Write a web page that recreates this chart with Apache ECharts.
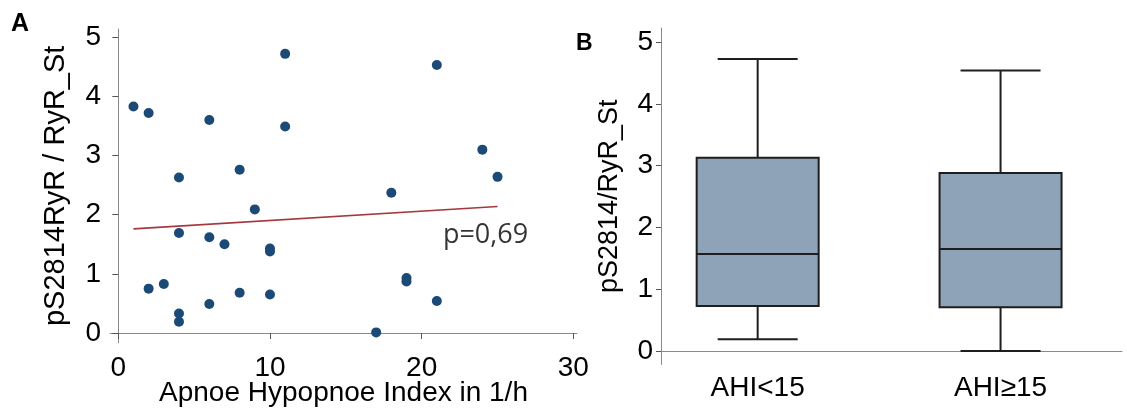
<!DOCTYPE html>
<html><head><meta charset="utf-8">
<script src="https://cdn.jsdelivr.net/npm/echarts@6/dist/echarts.min.js"></script>
<style>html,body{margin:0;padding:0;background:#fff}#c{width:1127px;height:410px}</style>
</head><body><div id="c"></div>
<script>
// Panel A: scatter data (AHI in 1/h vs pS2814RyR / RyR_St)
const ahi   = [1, 2, 11, 6, 11, 4, 8, 9, 4, 6, 7, 10, 10, 2, 3, 8, 10, 6, 4, 4, 21, 24, 25, 18, 19, 19, 21, 17];
const ratio = [3.83, 3.72, 4.72, 3.60, 3.49, 2.63, 2.76, 2.09, 1.69, 1.62, 1.50, 1.43, 1.38, 0.75, 0.83, 0.68, 0.65, 0.49, 0.33, 0.19, 4.53, 3.10, 2.64, 2.37, 0.93, 0.87, 0.54, 0.01];
// regression line endpoints
const fitX = [1, 25];
const fitY = [1.76, 2.14];
const pText = 'p=0,69';
const pAt = [21.4, 1.66];
const scatterXTicks = [0, 10, 20, 30];
const yTicks = [0, 1, 2, 3, 4, 5];
// Panel B: box plot
const groups    = ['AHI<15', 'AHI≥15'];
const groupPos  = [1, 2];
const boxMin    = [0.19, 0.00];
const boxQ1     = [0.73, 0.71];
const boxMedian = [1.57, 1.65];
const boxQ3     = [3.13, 2.88];
const boxMax    = [4.73, 4.54];

const FONT = "'Liberation Sans', Arial, sans-serif";
const axisGrey = '#8a8a8a';

const chart = echarts.init(document.getElementById('c'));
chart.setOption({
  animation: false,
  backgroundColor: '#fff',
  textStyle: { fontFamily: FONT, color: '#000' },
  grid: [
    { left: 110, top: 29, width: 467, height: 313.7, containLabel: false, outerBoundsMode: 'none' },
    { left: 661, top: 28, width: 461, height: 336.5, containLabel: false, outerBoundsMode: 'none' }
  ],
  graphic: [
    { type: 'text', left: 11, top: 12, style: { text: 'A', font: "bold 25px 'Liberation Sans', Arial", fill: '#000' } },
    { type: 'text', left: 576, top: 32, style: { text: 'B', font: "bold 23px 'Liberation Sans', Arial", fill: '#000' } }
  ],
  xAxis: [
    {
      gridIndex: 0, type: 'value', min: -0.547, max: 30.24,
      name: 'Apnoe Hypopnoe Index in 1/h', nameLocation: 'middle', nameGap: 37, nameMoveOverlap: false,
      nameTextStyle: { fontSize: 28, fontFamily: FONT, color: '#000' },
      axisLine: { show: true, lineStyle: { color: axisGrey, width: 1 } },
      axisTick: { show: true, length: 6, lineStyle: { color: '#555' }, customValues: scatterXTicks },
      axisLabel: { fontSize: 28, color: '#000', margin: 12, customValues: scatterXTicks },
      splitLine: { show: false }
    },
    {
      gridIndex: 1, type: 'value', min: 0.602, max: 2.5,
      axisLine: { show: true, lineStyle: { color: axisGrey, width: 1 } },
      axisTick: { show: false },
      axisLabel: { fontSize: 28, color: '#000', margin: 10, customValues: groupPos,
                   formatter: v => groups[Math.round(v) - 1] || '' },
      splitLine: { show: false }
    }
  ],
  yAxis: [
    {
      gridIndex: 0, type: 'value', min: -0.164, max: 5.14,
      name: 'pS2814RyR / RyR_St', nameLocation: 'middle', nameGap: 40, nameMoveOverlap: false,
      nameTextStyle: { fontSize: 29, fontFamily: FONT, color: '#000' },
      axisLine: { show: true, lineStyle: { color: axisGrey, width: 1 } },
      axisTick: { show: true, length: 6, lineStyle: { color: '#555' }, customValues: yTicks },
      axisLabel: { fontSize: 28, color: '#000', margin: 9, customValues: yTicks },
      splitLine: { show: false }
    },
    {
      gridIndex: 1, type: 'value', min: -0.219, max: 5.23,
      name: 'pS2814/RyR_St', nameLocation: 'middle', nameGap: 38, nameMoveOverlap: false,
      nameTextStyle: { fontSize: 27, fontFamily: FONT, color: '#000' },
      axisLine: { show: true, lineStyle: { color: axisGrey, width: 1 } },
      axisTick: { show: true, length: 5, lineStyle: { color: '#555' }, customValues: yTicks },
      axisLabel: { fontSize: 28, color: '#000', margin: 8, customValues: yTicks },
      splitLine: { show: false }
    }
  ],
  series: [
    {
      type: 'line', xAxisIndex: 0, yAxisIndex: 0,
      data: fitX.map((x, i) => [x, fitY[i]]),
      showSymbol: false, symbol: 'none',
      lineStyle: { color: '#a3393f', width: 1.6 }, z: 1
    },
    {
      type: 'scatter', xAxisIndex: 0, yAxisIndex: 0,
      data: ahi.map((x, i) => [x, ratio[i]]),
      symbol: 'circle', symbolSize: 10,
      itemStyle: { color: '#1b4a77', opacity: 1 }, z: 3
    },
    {
      type: 'scatter', xAxisIndex: 0, yAxisIndex: 0,
      data: [pAt], symbolSize: 0, silent: true,
      label: { show: true, position: 'right', distance: 0, formatter: pText,
               fontSize: 27, fontFamily: "'Open Sans', sans-serif", color: '#000' }
    },
    {
      type: 'custom', xAxisIndex: 1, yAxisIndex: 1,
      data: groupPos.map((p, i) => [p, boxMin[i], boxQ1[i], boxMedian[i], boxQ3[i], boxMax[i]]),
      encode: { x: 0, y: [1, 2, 3, 4, 5] },
      renderItem: function (params, api) {
        const x = api.value(0);
        const pMin = api.coord([x, api.value(1)]);
        const pQ1 = api.coord([x, api.value(2)]);
        const pMed = api.coord([x, api.value(3)]);
        const pQ3 = api.coord([x, api.value(4)]);
        const pMax = api.coord([x, api.value(5)]);
        const cx = pMed[0];
        const bw = 122, cw = 80;
        const ls = { stroke: '#1e1e1e', lineWidth: 2 };
        return {
          type: 'group',
          children: [
            { type: 'line', shape: { x1: cx, y1: pQ3[1], x2: cx, y2: pMax[1] }, style: ls },
            { type: 'line', shape: { x1: cx, y1: pQ1[1], x2: cx, y2: pMin[1] }, style: ls },
            { type: 'line', shape: { x1: cx - cw / 2, y1: pMax[1], x2: cx + cw / 2, y2: pMax[1] }, style: ls },
            { type: 'line', shape: { x1: cx - cw / 2, y1: pMin[1], x2: cx + cw / 2, y2: pMin[1] }, style: ls },
            { type: 'rect', shape: { x: cx - bw / 2, y: pQ3[1], width: bw, height: pQ1[1] - pQ3[1] },
              style: { fill: '#8ea3b7', stroke: '#1e1e1e', lineWidth: 2 } },
            { type: 'line', shape: { x1: cx - bw / 2, y1: pMed[1], x2: cx + bw / 2, y2: pMed[1] }, style: ls }
          ]
        };
      }
    }
  ]
});
</script>
</body></html>
